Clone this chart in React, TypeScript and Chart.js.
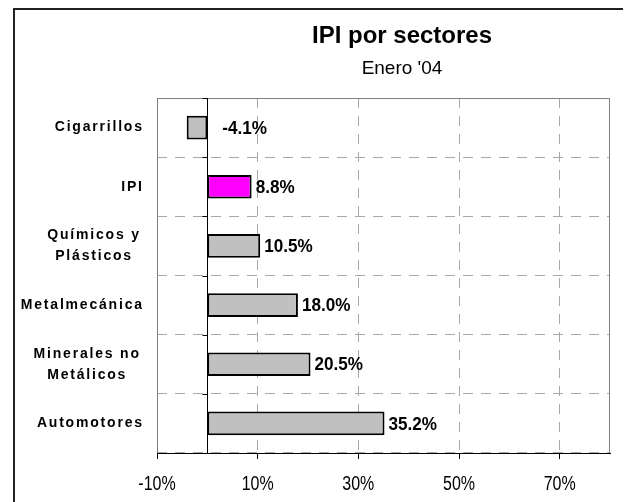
import { useEffect, useRef } from 'react';
import { Chart, registerables } from 'chart.js';

Chart.register(...registerables);

const categories: string[][] = [
  ['Cigarrillos'],
  ['IPI'],
  ['Químicos y', 'Plásticos'],
  ['Metalmecánica'],
  ['Minerales no', 'Metálicos'],
  ['Automotores'],
];
const values = [-4.1, 8.8, 10.5, 18.0, 20.5, 35.2];
const barColors = ['#C0C0C0', '#FF00FF', '#C0C0C0', '#C0C0C0', '#C0C0C0', '#C0C0C0'];
const xTicks = [-10, 10, 30, 50, 70];
const xMin = -10;
const xMax = 80;
const titleText = 'IPI por sectores';
const subtitleText = "Enero '04";

const FONT = "'Liberation Sans', Arial, sans-serif";

const W = 623;
const H = 494;

function drawText(ctx: CanvasRenderingContext2D, text: string, x: number, y: number, align: CanvasTextAlign, sx: number) {
  ctx.save();
  ctx.translate(x, y);
  ctx.scale(sx, 1);
  ctx.textAlign = align;
  ctx.fillText(text, 0, 0);
  ctx.restore();
}

const decor = {
  id: 'decor',
  beforeDatasetsDraw(chart: any) {
    const { ctx, chartArea: a, scales } = chart;
    const x0 = Math.round(scales.x.getPixelForValue(0)) + 0.5;
    ctx.save();
    ctx.lineWidth = 1;
    ctx.strokeStyle = '#808080';
    ctx.beginPath();
    ctx.moveTo(a.left + 0.5, a.bottom);
    ctx.lineTo(a.left + 0.5, a.top + 0.5);
    ctx.lineTo(a.right - 0.5, a.top + 0.5);
    ctx.lineTo(a.right - 0.5, a.bottom);
    ctx.stroke();
    ctx.strokeStyle = '#000';
    ctx.beginPath();
    ctx.moveTo(x0, a.top);
    ctx.lineTo(x0, a.bottom);
    for (let i = 0; i <= categories.length; i++) {
      const y = Math.round(scales.y.getPixelForValue(i - 0.5)) + 0.5;
      ctx.moveTo(x0 - 5, y);
      ctx.lineTo(x0, y);
    }
    ctx.stroke();
    ctx.restore();
  },
  afterDraw(chart: any) {
    const { ctx, chartArea: a, scales } = chart;
    ctx.save();
    // outer frame
    ctx.fillStyle = '#222';
    ctx.fillRect(5, 0, 2, H);
    ctx.fillRect(5, 0, W, 2);
    // title
    ctx.fillStyle = '#000';
    ctx.textBaseline = 'middle';
    ctx.font = `bold 24px ${FONT}`;
    drawText(ctx, titleText, 394, 28, 'center', 1);
    ctx.font = `19px ${FONT}`;
    drawText(ctx, subtitleText, 394, 61, 'center', 1);
    // x tick labels
    ctx.font = `20px ${FONT}`;
    xTicks.forEach((v) => {
      drawText(ctx, `${v}%`, scales.x.getPixelForValue(v), a.bottom + 31, 'center', 0.8);
    });
    // category labels
    ctx.font = `bold 14px ${FONT}`;
    const sp = 1.8;
    (ctx as any).letterSpacing = `${sp}px`;
    const rightEdge = a.left - 15;
    categories.forEach((lines, i) => {
      const yc = scales.y.getPixelForTick(i);
      const widths = lines.map((l) => ctx.measureText(l).width - sp);
      const maxW = Math.max(...widths);
      const cx = rightEdge - (lines.length > 1 ? 3 : 0) - maxW / 2;
      const lh = 21;
      lines.forEach((l, j) => {
        const y = yc + (j - (lines.length - 1) / 2) * lh;
        drawText(ctx, l, cx + sp / 2, y, 'center', 1);
      });
    });
    (ctx as any).letterSpacing = '0px';
    // value labels
    ctx.font = `bold 19px ${FONT}`;
    const meta = chart.getDatasetMeta(0);
    meta.data.forEach((el: any, i: number) => {
      const v = values[i];
      const end = Math.max(el.x, el.base);
      const x = end + (v < 0 ? 15 : 4);
      drawText(ctx, v.toFixed(1) + '%', x, el.y + 1, 'left', 0.9);
    });
    ctx.restore();
  },
};

export default function App() {
  const ref = useRef<HTMLCanvasElement | null>(null);
  useEffect(() => {
    if (!ref.current) return;
    const chart = new Chart(ref.current, {
      type: 'bar',
      data: {
        labels: categories,
        datasets: [
          {
            data: values,
            backgroundColor: barColors,
            borderColor: '#000',
            borderWidth: 2,
            borderSkipped: false,
            barPercentage: 0.4,
            categoryPercentage: 1,
          },
        ],
      },
      options: {
        indexAxis: 'y',
        animation: false,
        responsive: true,
        maintainAspectRatio: false,
        layout: { padding: { top: 90, right: 21, bottom: 0, left: 0 } },
        plugins: {
          legend: { display: false },
          tooltip: { enabled: false },
          title: { display: false },
        },
        scales: {
          x: {
            type: 'linear',
            min: xMin,
            max: xMax,
            afterBuildTicks: (scale: any) => {
              scale.ticks = xTicks.map((v) => ({ value: v }));
            },
            afterFit: (scale: any) => {
              scale.height = 49;
            },
            grid: {
              color: '#A8A8A8',
              lineWidth: 1,
              drawTicks: true,
              tickLength: 6,
              tickColor: '#000',
              tickBorderDash: [],
            },
            border: { display: true, color: '#000', width: 1, dash: [10, 8] },
            ticks: { display: false },
          },
          y: {
            type: 'category',
            afterFit: (scale: any) => {
              scale.width = 149;
            },
            grid: {
              color: '#A8A8A8',
              lineWidth: 1,
              drawTicks: false,
              offset: true,
            },
            border: { display: false, dash: [10, 8] },
            ticks: { display: false },
          },
        },
      },
      plugins: [decor],
    });
    return () => chart.destroy();
  }, []);
  return (
    <div style={{ width: W, height: H, position: 'relative' }}>
      <canvas ref={ref} />
    </div>
  );
}
